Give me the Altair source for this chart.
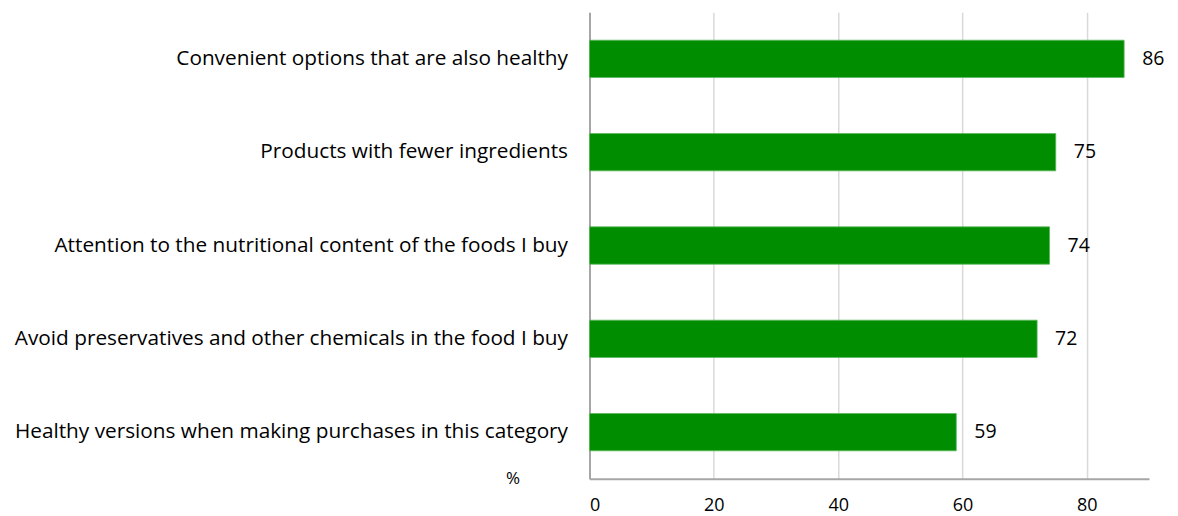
import altair as alt
import pandas as pd

categories = [
    "Convenient options that are also healthy",
    "Products with fewer ingredients",
    "Attention to the nutritional content of the foods I buy",
    "Avoid preservatives and other chemicals in the food I buy",
    "Healthy versions when making purchases in this category",
]
values = [86, 75, 74, 72, 59]
tick_values = [0, 20, 40, 60, 80]

df = pd.DataFrame({"category": categories, "value": values})

FONT = "Open Sans"

x = alt.X(
    "value:Q",
    scale=alt.Scale(domain=[0, 90], nice=False),
    axis=alt.Axis(
        values=tick_values,
        title="%",
        titleX=-77,
        titleY=0,
        titleAlign="center",
        titleBaseline="middle",
        titleFont=FONT,
        titleFontSize=17,
        titleFontWeight="normal",
        titleColor="#000000",
        labelFont=FONT,
        labelFontSize=18,
        labelColor="#000000",
        labelPadding=18,
        tickSize=0,
        domainColor="#a6a6a6",
        domainWidth=2,
        grid=True,
        gridColor="#d9d9d9",
        gridWidth=1.5,
    ),
)
y = alt.Y(
    "category:N",
    sort=categories,
    scale=alt.Scale(paddingInner=0.6, paddingOuter=0.3),
    axis=alt.Axis(
        title=None,
        labelFont=FONT,
        labelFontSize=20.8,
        labelColor="#000000",
        labelPadding=22,
        labelLimit=1000,
        tickSize=0,
        domainColor="#a6a6a6",
        domainWidth=2,
    ),
)

bars = alt.Chart(df).mark_bar(color="#008e00", stroke="#5cb85c", strokeWidth=0.8).encode(x=x, y=y)
labels = alt.Chart(df).mark_text(
    align="left", baseline="middle", dx=18, font=FONT, fontSize=19.5, color="#000000"
).encode(x="value:Q", y=alt.Y("category:N", sort=categories), text="value:Q")

chart = (
    alt.layer(bars, labels)
    .properties(width=560, height=467, padding={"left": 6, "top": 4, "right": 5, "bottom": 0})
    .configure_view(stroke=None)
    .configure_axisX(gridDash=[])
)

chart.save("out.html", embed_options={"renderer": "svg", "actions": False})
